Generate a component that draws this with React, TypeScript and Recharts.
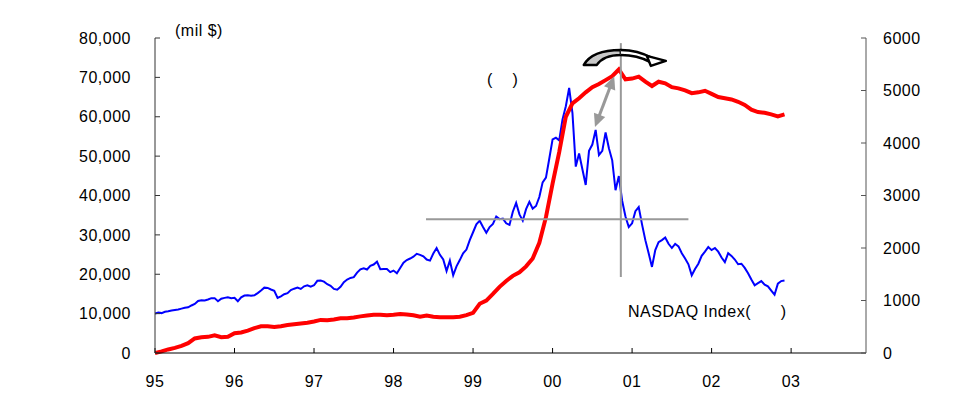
import React from 'react';
import { LineChart, Line, XAxis, YAxis, ReferenceLine, ReferenceDot } from 'recharts';

const YEAR_LABELS = ['95', '96', '97', '98', '99', '00', '01', '02', '03'];
const YEAR_TICKS = [0, 12, 24, 36, 48, 60, 72, 84, 96];
const LEFT_TICKS = [0, 10000, 20000, 30000, 40000, 50000, 60000, 70000, 80000];
const RIGHT_TICKS = [0, 1000, 2000, 3000, 4000, 5000, 6000];

// NASDAQ index, every half month from Jan 95 to end of Nov 02
const NASDAQ = [
  750,
  770, 760, 785, 795, 810, 820, 830, 845, 860, 870, 905, 935,
  990, 1005, 1000, 1020, 1045, 1045, 985, 1035, 1050, 1060, 1045, 1050,
  985, 1060, 1095, 1100, 1090, 1100, 1140, 1190, 1245, 1240, 1210, 1185,
  1050, 1080, 1120, 1140, 1200, 1225, 1245, 1220, 1270, 1290, 1265, 1290,
  1375, 1380, 1360, 1310, 1280, 1220, 1205, 1260, 1350, 1400, 1430, 1445,
  1530, 1595, 1615, 1590, 1660, 1685, 1740, 1595, 1600, 1600, 1540, 1570,
  1520, 1620, 1720, 1770, 1800, 1835, 1890, 1870, 1840, 1780, 1760, 1895,
  2000, 1870, 1780, 1560, 1760, 1480, 1650, 1770, 1900, 1970, 2150, 2300,
  2450, 2520, 2400, 2290, 2400, 2460, 2600, 2550, 2560, 2470, 2440, 2690,
  2860, 2640, 2520, 2740, 2880, 2750, 2800, 2970, 3250, 3340, 3700, 4070,
  4100, 4050, 4450, 4700, 5048, 4570, 3550, 3800, 3500, 3200, 3850, 3970,
  4250, 3770, 3850, 4200, 3900, 3670, 3100, 3370, 2900, 2600, 2400, 2470,
  2700, 2780, 2450, 2150, 1900, 1640, 1960, 2110, 2150, 2200, 2080, 2000,
  2080, 2030, 1900, 1800, 1690, 1480, 1600, 1700, 1850, 1930, 2020, 1960,
  2000, 1930, 1820, 1730, 1900, 1850, 1780, 1690, 1700, 1620, 1520, 1400,
  1290, 1330, 1370, 1300, 1270, 1190, 1110, 1320, 1370, 1380,
];

// IT investment (mil $), monthly from Jan 95
const IT_INVEST = [
  0, 400, 900, 1300, 1800, 2500, 3700, 4000, 4100, 4500, 4000, 4100,
  5000, 5200, 5700, 6300, 6800, 6800, 6600, 6800, 7100, 7300, 7500, 7700,
  8000, 8400, 8300, 8500, 8800, 8800, 9000, 9300, 9500, 9700, 9700, 9600,
  9700, 9900, 9800, 9600, 9200, 9500, 9200, 9100, 9100, 9100, 9200, 9600,
  10200, 12500, 13300, 15000, 16800, 18300, 19600, 20500, 22000, 24000, 28000, 34500,
  43000, 51000, 60000, 63400, 64700, 66200, 67500, 68300, 69300, 70300, 72000, 69500,
  69700, 70200, 68900, 67800, 68900, 68500, 67500, 67200, 66700, 66000, 66200, 66600,
  65800, 65000, 64700, 64400, 63800, 63000, 61800, 61200, 61000, 60600, 60100, 60600,
];

const data = NASDAQ.map((v, i) => ({
  t: i / 2,
  nasdaq: v,
  invest: i % 2 === 0 ? IT_INVEST[i / 2] : null,
}));

const FONT = '"Liberation Sans", Arial, sans-serif';
const tickStyle = { fontSize: 16, fill: '#000', fontFamily: FONT };

const DoubleArrow = (p: any) => {
  const { x1, y1, x2, y2 } = p;
  const dx = x2 - x1;
  const dy = y2 - y1;
  const len = Math.hypot(dx, dy) || 1;
  const ux = dx / len;
  const uy = dy / len;
  const head = (x: number, y: number, ax: number, ay: number) => {
    const bx = x - ax * 13;
    const by = y - ay * 13;
    const px = -ay * 6;
    const py = ax * 6;
    return `${x},${y} ${bx + px},${by + py} ${bx - px},${by - py}`;
  };
  return (
    <g>
      <line x1={x1 + ux * 10} y1={y1 + uy * 10} x2={x2 - ux * 10} y2={y2 - uy * 10} stroke="#999" strokeWidth={3} />
      <polygon points={head(x1, y1, -ux, -uy)} fill="#999" />
      <polygon points={head(x2, y2, ux, uy)} fill="#999" />
    </g>
  );
};

const CurvedArrow = ({ cx, cy }: any) => (
  <g transform={`translate(${cx},${cy})`}>
    <path d="M-37,8 C-31,-3 -16,-7 0,-7 L0,-2 C-12,-2 -20,2 -24,8 Z" fill="#c8c8c8" stroke="#000" strokeWidth={2.5} strokeLinejoin="round" />
    <path d="M0,-7 C14,-7 24,-3 31,1 L29,5 C22,1 12,-2 0,-2" fill="#fff" stroke="#000" strokeWidth={2.5} strokeLinejoin="round" />
    <path d="M26,-1 L45,4 L30,9 Z" fill="#fff" stroke="#000" strokeWidth={2.5} strokeLinejoin="round" />
  </g>
);

const textStyle: React.CSSProperties = {
  position: 'absolute',
  fontFamily: FONT,
  fontSize: 16,
  lineHeight: '16px',
  letterSpacing: 0.5,
  color: '#000',
  whiteSpace: 'pre',
};

export default function App() {
  return (
    <div style={{ position: 'relative', width: 980, height: 405, margin: -8, background: '#fff' }}>
      <style>{`.recharts-cartesian-axis-tick-value { letter-spacing: 0.5px; }`}</style>
      <div style={{ position: 'absolute', left: 10, top: 5, width: 970, height: 2, background: '#000' }} />
      <LineChart width={980} height={405} data={data} margin={{ top: 38, right: 54, bottom: 22, left: 95 }}>
        <XAxis
          dataKey="t"
          type="number"
          domain={[0, 107.3]}
          allowDataOverflow
          ticks={YEAR_TICKS}
          interval={0}
          tickFormatter={(v: number) => YEAR_LABELS[YEAR_TICKS.indexOf(v)]}
          height={30}
          stroke="#000"
          tickSize={-5}
          tickMargin={28}
          tick={tickStyle}
        />
        <YAxis
          yAxisId="left"
          domain={[0, 80000]}
          ticks={LEFT_TICKS}
          interval={0}
          width={60}
          stroke="#333"
          tickSize={-5}
          tickMargin={29}
          tick={tickStyle}
          tickFormatter={(v: number) => v.toLocaleString('en-US')}
        />
        <YAxis
          yAxisId="right"
          orientation="right"
          domain={[0, 6000]}
          ticks={RIGHT_TICKS}
          interval={0}
          width={60}
          stroke="#555"
          tickSize={-5}
          tickMargin={22}
          tick={tickStyle}
        />
        <Line
          yAxisId="right"
          dataKey="nasdaq"
          stroke="#0000ff"
          strokeWidth={2}
          dot={false}
          isAnimationActive={false}
        />
        <Line
          yAxisId="left"
          dataKey="invest"
          stroke="#ff0000"
          strokeWidth={4}
          dot={false}
          connectNulls
          isAnimationActive={false}
        />
        <ReferenceLine
          yAxisId="left"
          segment={[{ x: 40.9, y: 34000 }, { x: 80.5, y: 34000 }]}
          stroke="#999"
          strokeWidth={2}
        />
        <ReferenceLine
          yAxisId="left"
          segment={[{ x: 70.3, y: 78700 }, { x: 70.3, y: 19300 }]}
          stroke="#999"
          strokeWidth={2}
        />
        <ReferenceLine
          yAxisId="left"
          segment={[{ x: 66.4, y: 57400 }, { x: 69.3, y: 70300 }]}
          shape={DoubleArrow}
        />
        <ReferenceDot yAxisId="left" x={70.3} y={75200} shape={CurvedArrow} />
      </LineChart>
      <div style={{ ...textStyle, left: 175, top: 23 }}>(mil $)</div>
      <div style={{ ...textStyle, left: 487, top: 72 }}>(    )</div>
      <div style={{ ...textStyle, left: 628, top: 304 }}>NASDAQ Index(      )</div>
    </div>
  );
}
